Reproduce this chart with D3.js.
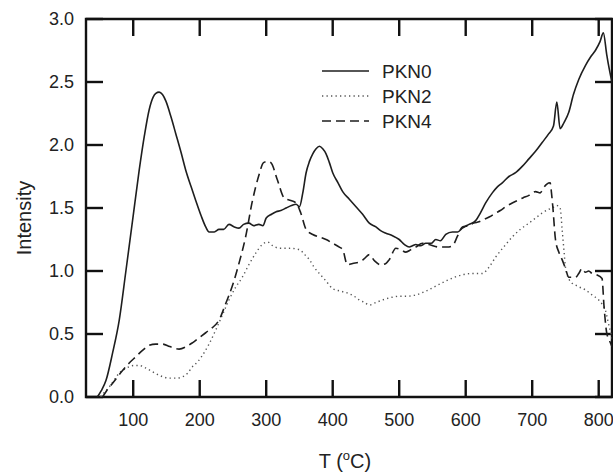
<!DOCTYPE html>
<html>
<head>
<meta charset="utf-8">
<script src="https://cdn.jsdelivr.net/npm/d3@7"></script>
<style>
  body { margin: 0; background: #fff; }
  svg text { font-family: "Liberation Sans", Arial, sans-serif; fill: #222; }
</style>
</head>
<body>
<svg id="chart" width="613" height="472"></svg>
<script>
// T (°C) and intensity readings for each sample
const pkn0T = [46, 52, 59, 69, 79, 89, 99, 109, 117, 124, 130, 134, 139, 144, 149, 157, 164, 172, 179, 187, 194, 202, 209, 214, 222, 229, 236, 244, 252, 259, 266, 274, 281, 289, 295, 300, 308, 315, 322, 330, 338, 345, 350, 355, 360, 365, 370, 375, 380, 385, 390, 395, 400, 408, 415, 425, 435, 445, 455, 465, 472, 480, 490, 500, 508, 515, 520, 525, 532, 540, 548, 555, 562, 570, 580, 588, 595, 605, 615, 622, 630, 640, 648, 655, 665, 675, 685, 695, 705, 715, 725, 732, 737, 742, 748, 755, 762, 770, 780, 788, 795, 802, 807, 812, 816, 822];
const pkn0I = [0.0, 0.05, 0.13, 0.35, 0.61, 1.0, 1.40, 1.80, 2.08, 2.28, 2.38, 2.41, 2.42, 2.40, 2.35, 2.22, 2.09, 1.94, 1.80, 1.67, 1.56, 1.44, 1.35, 1.31, 1.31, 1.33, 1.33, 1.37, 1.35, 1.34, 1.37, 1.38, 1.36, 1.37, 1.36, 1.42, 1.45, 1.47, 1.48, 1.50, 1.52, 1.53, 1.51, 1.62, 1.78, 1.87, 1.93, 1.97, 1.99, 1.97, 1.93, 1.86, 1.78, 1.70, 1.63, 1.57, 1.51, 1.45, 1.38, 1.35, 1.32, 1.30, 1.28, 1.25, 1.21, 1.19, 1.20, 1.21, 1.20, 1.22, 1.22, 1.25, 1.24, 1.29, 1.31, 1.31, 1.34, 1.37, 1.40, 1.46, 1.54, 1.62, 1.67, 1.70, 1.75, 1.78, 1.83, 1.89, 1.95, 2.02, 2.09, 2.15, 2.34, 2.13, 2.18, 2.26, 2.40, 2.52, 2.63, 2.70, 2.75, 2.82, 2.89, 2.72, 2.60, 2.45];

const pkn2T = [51, 57, 64, 72, 79, 87, 94, 101, 109, 119, 129, 140, 154, 165, 174, 182, 189, 197, 204, 214, 224, 234, 244, 254, 264, 274, 284, 294, 302, 310, 320, 335, 350, 358, 365, 372, 380, 390, 400, 412, 425, 432, 440, 448, 455, 465, 475, 488, 500, 512, 525, 540, 555, 570, 583, 595, 610, 625, 635, 645, 657, 670, 682, 695, 705, 715, 725, 730, 737, 742, 745, 748, 750, 757, 768, 780, 790, 800, 806, 810, 814, 817, 821];
const pkn2I = [0.0, 0.04, 0.08, 0.14, 0.19, 0.22, 0.24, 0.25, 0.25, 0.23, 0.20, 0.17, 0.15, 0.15, 0.16, 0.19, 0.24, 0.28, 0.33, 0.42, 0.53, 0.65, 0.77, 0.87, 0.95, 1.05, 1.14, 1.21, 1.23, 1.20, 1.18, 1.18, 1.17, 1.13, 1.09, 1.03, 0.98, 0.92, 0.86, 0.84, 0.82, 0.80, 0.77, 0.75, 0.73, 0.75, 0.77, 0.79, 0.80, 0.80, 0.81, 0.84, 0.88, 0.92, 0.95, 0.97, 0.98, 0.98, 1.03, 1.11, 1.19, 1.27, 1.33, 1.38, 1.42, 1.46, 1.49, 1.50, 1.52, 1.50, 1.33, 1.15, 1.03, 0.92, 0.88, 0.85, 0.81, 0.77, 0.73, 0.69, 0.60, 0.53, 0.45];

const pkn4T = [54, 60, 69, 84, 94, 104, 114, 124, 134, 144, 155, 169, 180, 189, 199, 209, 219, 229, 239, 249, 259, 269, 279, 289, 296, 302, 307, 317, 327, 337, 345, 352, 360, 370, 380, 390, 400, 410, 415, 422, 430, 440, 448, 455, 463, 472, 480, 485, 495, 502, 510, 518, 525, 535, 545, 560, 572, 580, 588, 595, 605, 612, 620, 628, 636, 645, 652, 660, 670, 678, 686, 695, 705, 712, 717, 722, 727, 729, 731, 735, 740, 745, 750, 755, 760, 765, 770, 775, 780, 785, 790, 797, 805, 808, 812, 816, 820];
const pkn4I = [0.0, 0.05, 0.11, 0.21, 0.27, 0.32, 0.37, 0.41, 0.42, 0.42, 0.40, 0.38, 0.40, 0.43, 0.47, 0.51, 0.55, 0.61, 0.74, 0.88, 1.06, 1.27, 1.55, 1.76, 1.86, 1.87, 1.86, 1.72, 1.58, 1.56, 1.54, 1.46, 1.33, 1.29, 1.27, 1.25, 1.22, 1.19, 1.17, 1.05, 1.06, 1.07, 1.10, 1.13, 1.08, 1.05, 1.06, 1.09, 1.18, 1.17, 1.15, 1.17, 1.19, 1.22, 1.21, 1.19, 1.19, 1.20, 1.28, 1.35, 1.36, 1.38, 1.39, 1.41, 1.43, 1.46, 1.48, 1.51, 1.54, 1.56, 1.58, 1.60, 1.63, 1.62, 1.66, 1.69, 1.70, 1.62, 1.51, 1.25, 1.15, 1.09, 1.02, 0.95, 0.95, 0.95, 0.98, 1.02, 0.99, 1.00, 0.98, 0.97, 0.94, 0.72, 0.51, 0.45, 0.40];

const seriesNames = ["PKN0", "PKN2", "PKN4"];
const xTicks = [100, 200, 300, 400, 500, 600, 700, 800];
const yTicks = [0.0, 0.5, 1.0, 1.5, 2.0, 2.5, 3.0];

const svg = d3.select("#chart");
const margin = { top: 19, right: 1, bottom: 75, left: 86 };
const width = 613, height = 472;
const innerW = width - margin.left - margin.right;
const innerH = height - margin.top - margin.bottom;

const x = d3.scaleLinear().domain([29, 820]).range([0, innerW]);
const y = d3.scaleLinear().domain([0, 3]).range([innerH, 0]);

const g = svg.append("g").attr("transform", `translate(${margin.left},${margin.top})`);

const tickLen = 17;
const tw = 2.4;
const ink = "#111";

// inward ticks on all four sides, drawn as thin filled bars
const tickG = g.append("g").attr("fill", ink);
tickG.selectAll("rect.xb").data(xTicks).join("rect").attr("class", "xb")
  .attr("x", d => x(d) - tw / 2).attr("y", innerH - tickLen)
  .attr("width", tw).attr("height", tickLen);
tickG.selectAll("rect.xt").data(xTicks).join("rect").attr("class", "xt")
  .attr("x", d => x(d) - tw / 2).attr("y", 0)
  .attr("width", tw).attr("height", tickLen);
tickG.selectAll("rect.yl").data(yTicks).join("rect").attr("class", "yl")
  .attr("x", 0).attr("y", d => y(d) - tw / 2)
  .attr("width", tickLen).attr("height", tw);
tickG.selectAll("rect.yr").data(yTicks).join("rect").attr("class", "yr")
  .attr("x", innerW - tickLen).attr("y", d => y(d) - tw / 2)
  .attr("width", tickLen).attr("height", tw);

// frame
g.append("path")
  .attr("d", `M0,0H${innerW}V${innerH}H0Z`)
  .attr("fill", "none").attr("stroke", ink).attr("stroke-width", tw);

// tick labels
g.selectAll("text.xl").data(xTicks).join("text").attr("class", "xl")
  .attr("x", d => x(d)).attr("y", innerH + 29)
  .attr("text-anchor", "middle")
  .style("font-size", "18px")
  .text(d => d);
g.selectAll("text.ylab").data(yTicks).join("text").attr("class", "ylab")
  .attr("x", -12).attr("y", d => y(d)).attr("dy", "0.35em")
  .attr("text-anchor", "end")
  .style("font-size", "18px")
  .text(d => d3.format(".1f")(d));

const line = d3.line()
  .x(d => x(d[0])).y(d => y(d[1]))
  .curve(d3.curveMonotoneX);

const series = [
  { name: seriesNames[0], pts: d3.zip(pkn0T, pkn0I), dash: null, color: "#1e1e1e", w: 1.6 },
  { name: seriesNames[1], pts: d3.zip(pkn2T, pkn2I), dash: "1.3,3.2", color: "#555", w: 1.4 },
  { name: seriesNames[2], pts: d3.zip(pkn4T, pkn4I), dash: "9,5", color: "#1e1e1e", w: 1.6 }
];

const defs = svg.append("defs");
defs.append("clipPath").attr("id", "plotClip")
  .append("rect").attr("width", innerW).attr("height", innerH);

const plot = g.append("g").attr("clip-path", "url(#plotClip)");
plot.selectAll("path.series")
  .data(series)
  .join("path")
  .attr("class", "series")
  .attr("d", d => line(d.pts))
  .attr("fill", "none")
  .attr("stroke", d => d.color)
  .attr("stroke-width", d => d.w)
  .attr("stroke-dasharray", d => d.dash);

// legend
const legend = svg.append("g").attr("transform", "translate(322,71)");
const rows = legend.selectAll("g").data(series).join("g")
  .attr("transform", (d, i) => `translate(0,${i * 25})`);
rows.append("line")
  .attr("x1", 0).attr("x2", 47)
  .attr("stroke", d => d.color)
  .attr("stroke-width", d => d.w)
  .attr("stroke-dasharray", d => d.dash);
rows.append("text")
  .attr("x", 60).attr("y", 7)
  .style("font-size", "19px")
  .text(d => d.name);

// axis titles
svg.append("text")
  .attr("transform", `translate(31,${margin.top + innerH / 2 + 10}) rotate(-90)`)
  .attr("text-anchor", "middle")
  .style("font-size", "20px")
  .text("Intensity");

const xt = svg.append("text")
  .attr("x", margin.left + innerW / 2 - 4).attr("y", 468)
  .attr("text-anchor", "middle")
  .style("font-size", "20px");
xt.append("tspan").text("T (");
xt.append("tspan").attr("dy", -8).style("font-size", "13px").text("o");
xt.append("tspan").attr("dy", 8).text("C)");
</script>
</body>
</html>
